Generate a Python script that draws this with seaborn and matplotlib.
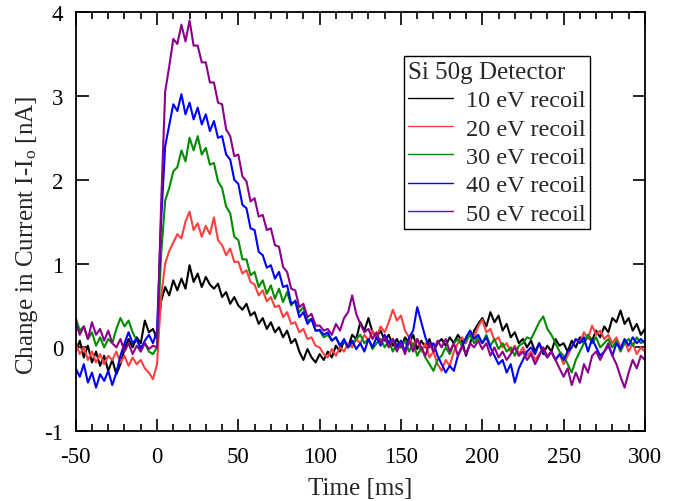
import numpy as np
import pandas as pd
import matplotlib
matplotlib.use('Agg')
import matplotlib.pyplot as plt
import seaborn as sns
from matplotlib.ticker import MultipleLocator

# ─── Data (2.5 ms sampling) ─────────────────────────────────────────────────

time_ms = np.arange(-50, 300.1, 2.5)

recoil_10 = [
    -0.05, 0.08, -0.12, 0.02, -0.18, -0.05, -0.22, -0.1, -0.28, -0.15,
    -0.32, -0.2, -0.02, 0.1, 0.0, 0.12, 0.05, 0.32, 0.18, 0.22,
    0.1, 0.55, 0.72, 0.62, 0.8, 0.68, 0.82, 0.7, 0.98, 0.78,
    0.88, 0.72, 0.84, 0.75, 0.7, 0.76, 0.6, 0.66, 0.52, 0.6,
    0.5, 0.45, 0.52, 0.38, 0.42, 0.28, 0.35, 0.22, 0.3, 0.18,
    0.24, 0.12, 0.2, 0.05, 0.1, -0.05, -0.15, -0.02, -0.12, -0.18,
    -0.08, -0.15, -0.05, -0.12, 0.02, -0.05, 0.08, 0.0, 0.15, 0.1,
    0.3, 0.2, 0.35, 0.18, 0.12, 0.2, 0.08, 0.15, 0.02, 0.1,
    0.0, 0.12, 0.05, 0.15, -0.02, 0.08, 0.0, 0.1, -0.05, 0.05,
    0.1, 0.02, 0.12, 0.05, 0.15, 0.08, -0.1, 0.05, 0.2, 0.28,
    0.35, 0.25, 0.42, 0.3, 0.38, 0.2, 0.28, 0.12, 0.18, 0.05,
    0.1, 0.0, 0.08, -0.05, 0.05, -0.08, 0.02, -0.05, 0.1, 0.02,
    0.05, -0.05, 0.08, 0.0, 0.12, 0.05, 0.15, 0.08, 0.2, 0.12,
    0.25, 0.18, 0.35, 0.3, 0.44, 0.28, 0.35, 0.2, 0.28, 0.15,
    0.22,
]

recoil_20 = [
    0.05, -0.08, 0.0, -0.15, -0.05, -0.18, -0.08, -0.2, -0.1, -0.15,
    -0.05, -0.18, -0.1, -0.22, -0.12, -0.2, -0.15, -0.25, -0.3, -0.38,
    -0.2, 0.6, 1.0, 1.15, 1.25, 1.35, 1.3, 1.5, 1.62, 1.4,
    1.48, 1.32, 1.45, 1.35, 1.55, 1.28, 1.22, 1.1, 1.18, 1.02,
    1.02, 0.88, 0.92, 0.78, 0.75, 0.62, 0.68, 0.55, 0.6, 0.48,
    0.5, 0.36, 0.42, 0.28, 0.3, 0.18, 0.22, 0.1, 0.12, 0.02,
    0.0, -0.08, -0.12, -0.02, -0.1, 0.0, -0.05, 0.05, 0.0, 0.1,
    0.05, 0.15, 0.08, 0.2, 0.12, 0.25, 0.18, 0.3, 0.45, 0.32,
    0.38, 0.2, 0.12, 0.02, 0.1, -0.05, 0.05, -0.12, -0.05, -0.2,
    -0.28, -0.15, -0.22, -0.05, 0.05, 0.12, 0.05, 0.2, 0.12, 0.25,
    0.33, 0.18, 0.22, 0.08, 0.12, 0.0, 0.05, -0.05, 0.02, -0.08,
    0.0, -0.1, -0.05, -0.15, -0.08, 0.0, -0.1, -0.05, -0.15, -0.08,
    -0.2, -0.1, 0.0, 0.1, 0.05, 0.18, 0.1, 0.26, 0.15, 0.2,
    0.1, 0.15, 0.05, 0.12, 0.0, 0.08, -0.05, 0.05, -0.08, 0.0,
    -0.05,
]

recoil_30 = [
    0.35, 0.2, 0.25, 0.1, 0.18, 0.02, 0.12, 0.0, 0.1, 0.05,
    0.22, 0.35, 0.25, 0.32, 0.18, 0.08, 0.0, 0.05, -0.05, -0.08,
    0.0, 1.1, 1.75, 1.9, 2.1, 2.15, 2.35, 2.22, 2.5, 2.35,
    2.52, 2.3, 2.38, 2.18, 2.2, 1.98, 1.9, 1.68, 1.6, 1.32,
    1.28, 1.05, 1.05, 0.86, 0.9, 0.72, 0.8, 0.64, 0.74, 0.58,
    0.7, 0.54, 0.66, 0.5, 0.56, 0.42, 0.48, 0.32, 0.34, 0.2,
    0.2, 0.12, 0.15, 0.08, 0.12, 0.02, 0.08, 0.0, 0.05, 0.1,
    0.15, 0.05, 0.1, -0.02, 0.05, 0.1, 0.0, 0.08, -0.05, 0.05,
    0.0, 0.08, -0.05, 0.05, -0.1, 0.0, -0.12, -0.2, -0.28, -0.15,
    -0.1, 0.0, -0.08, 0.05, 0.1, 0.02, 0.08, 0.15, 0.05, 0.12,
    0.05, 0.15, 0.02, 0.1, -0.02, 0.05, -0.05, 0.0, -0.1, 0.02,
    0.05, 0.12, 0.1, 0.2, 0.3, 0.37, 0.22, 0.15, 0.05, -0.05,
    -0.1, -0.2, -0.3, -0.15, -0.05, 0.05, 0.15, 0.05, 0.12, 0.0,
    0.05, 0.1, 0.0, 0.08, -0.05, 0.05, 0.1, 0.02, 0.12, 0.05,
    0.08,
]

recoil_40 = [
    -0.25, -0.35, -0.2, -0.42, -0.3, -0.48, -0.32, -0.4, -0.28, -0.45,
    -0.3, -0.1, 0.05, 0.18, 0.05, 0.1, -0.02, 0.08, 0.15, 0.05,
    0.2, 1.5, 2.4, 2.65, 2.9, 2.82, 3.02, 2.78, 2.92, 2.72,
    2.86, 2.66, 2.78, 2.58, 2.7, 2.5, 2.52, 2.3, 2.24, 2.0,
    1.95, 1.7, 1.66, 1.42, 1.4, 1.14, 1.1, 0.95, 0.98, 0.82,
    0.9, 0.72, 0.74, 0.52, 0.55, 0.36, 0.42, 0.28, 0.34, 0.2,
    0.21, 0.15, 0.18, 0.08, 0.12, 0.02, 0.1, 0.0, 0.08, -0.02,
    0.05, -0.05, 0.1, 0.0, 0.12, 0.02, 0.15, 0.05, 0.1, 0.0,
    0.08, -0.05, 0.12, 0.2, 0.48, 0.3, 0.12, 0.0, 0.05, -0.1,
    -0.2, -0.3, -0.22, -0.28, -0.1, 0.0, 0.12, 0.2, 0.1, 0.15,
    0.05, 0.12, 0.0, -0.1, -0.2, -0.15, -0.3, -0.2, -0.42, -0.25,
    -0.15, -0.05, 0.0, -0.08, 0.05, -0.05, -0.12, -0.05, -0.15, -0.08,
    -0.15, -0.05, 0.0, 0.1, 0.05, 0.12, -0.05, 0.1, 0.0, -0.1,
    -0.05, 0.02, -0.1, 0.05, -0.02, 0.1, 0.02, 0.12, 0.05, 0.1,
    0.05,
]

recoil_50 = [
    0.3, 0.15, 0.25, 0.1, 0.3, 0.15, 0.22, 0.08, 0.2, 0.05,
    0.0, 0.1, -0.05, 0.05, -0.08, 0.02, -0.05, 0.05, -0.02, 0.02,
    0.0, 1.7, 3.05, 3.35, 3.68, 3.62, 3.85, 3.65, 3.9, 3.6,
    3.6, 3.4, 3.4, 3.16, 3.16, 2.92, 2.9, 2.6, 2.52, 2.28,
    2.3, 2.04, 1.98, 1.74, 1.78, 1.56, 1.58, 1.4, 1.42, 1.22,
    1.2, 0.96, 0.9, 0.7, 0.68, 0.48, 0.52, 0.36, 0.4, 0.26,
    0.26, 0.2, 0.22, 0.15, 0.28, 0.2, 0.35, 0.42, 0.62, 0.4,
    0.28, 0.18, 0.22, 0.1, 0.18, 0.05, 0.12, 0.0, 0.1, -0.05,
    0.05, -0.08, 0.08, -0.05, 0.1, 0.0, -0.1, 0.05, -0.05, 0.08,
    0.0, 0.1, -0.05, 0.05, -0.1, 0.02, -0.08, 0.05, 0.0, 0.08,
    -0.02, 0.05, -0.1, 0.0, -0.12, -0.05, -0.15, -0.08, 0.0, -0.1,
    -0.05, -0.15, -0.08, -0.2, -0.1, 0.0, -0.12, -0.05, -0.15, -0.25,
    -0.35, -0.25, -0.45, -0.3, -0.42, -0.2, -0.3, -0.1, -0.05, -0.15,
    -0.05, 0.05, -0.1, -0.2, -0.35, -0.48, -0.3, -0.15, -0.25, -0.1,
    -0.15,
]

labels  = ['10 eV recoil', '20 eV recoil', '30 eV recoil',
           '40 eV recoil', '50 eV recoil']
colours = ['#000000', '#ff4040', '#008c00', '#0000ff', '#8b008b']
series  = [recoil_10, recoil_20, recoil_30, recoil_40, recoil_50]

df = pd.concat(
    [pd.DataFrame({'t': time_ms, 'I': vals, 'recoil': lbl})
     for lbl, vals in zip(labels, series)],
    ignore_index=True)

# ─── Plot ───────────────────────────────────────────────────────────────────

sns.set_style('ticks')
plt.rcParams['font.family'] = ['Liberation Serif', 'DejaVu Serif']
plt.rcParams['mathtext.fontset'] = 'custom'
plt.rcParams['mathtext.rm'] = 'Liberation Serif'
plt.rcParams['mathtext.it'] = 'Liberation Serif:italic'
plt.rcParams['axes.unicode_minus'] = False

fig = plt.figure(figsize=(6.76, 5.02), dpi=100)
ax = fig.add_axes([0.112, 0.139, 0.842, 0.835])

sns.lineplot(data=df, x='t', y='I', hue='recoil', hue_order=labels,
             palette=dict(zip(labels, colours)), linewidth=1.5,
             estimator=None, sort=False, ax=ax)

ax.set_xlim(-50, 300)
ax.set_ylim(-1, 4)
ax.xaxis.set_major_locator(MultipleLocator(50))
ax.xaxis.set_minor_locator(MultipleLocator(10))
ax.yaxis.set_major_locator(MultipleLocator(1))
ax.tick_params(which='both', direction='in', top=True, right=True,
               colors='black', labelsize=16.5, width=1.2)
ax.tick_params(which='major', length=9)
ax.tick_params(which='minor', length=5)
ax.tick_params(axis='x', pad=11)
ax.tick_params(axis='y', pad=9)
for s in ax.spines.values():
    s.set_linewidth(1.3)
    s.set_color('black')

ax.set_xlabel('Time [ms]', fontsize=18, labelpad=7)
ax.set_ylabel(r'Change in Current I-I$_\mathrm{o}$ [nA]', fontsize=18)
ax.yaxis.set_label_coords(-0.063, 0.47)

leg = ax.legend(title='Si 50g Detector', loc='upper left',
                bbox_to_anchor=(0.576, 0.895), fontsize=17.5,
                title_fontsize=18, frameon=True, fancybox=False,
                edgecolor='black', framealpha=1, borderpad=0.2,
                handlelength=1.85, handletextpad=0.5, labelspacing=0.26,
                borderaxespad=0)
leg.get_frame().set_linewidth(1.0)
leg._legend_box.align = 'left'
for h in leg.get_lines():
    h.set_linewidth(1.0)

plt.savefig('out.png', dpi=100)
plt.close(fig)
